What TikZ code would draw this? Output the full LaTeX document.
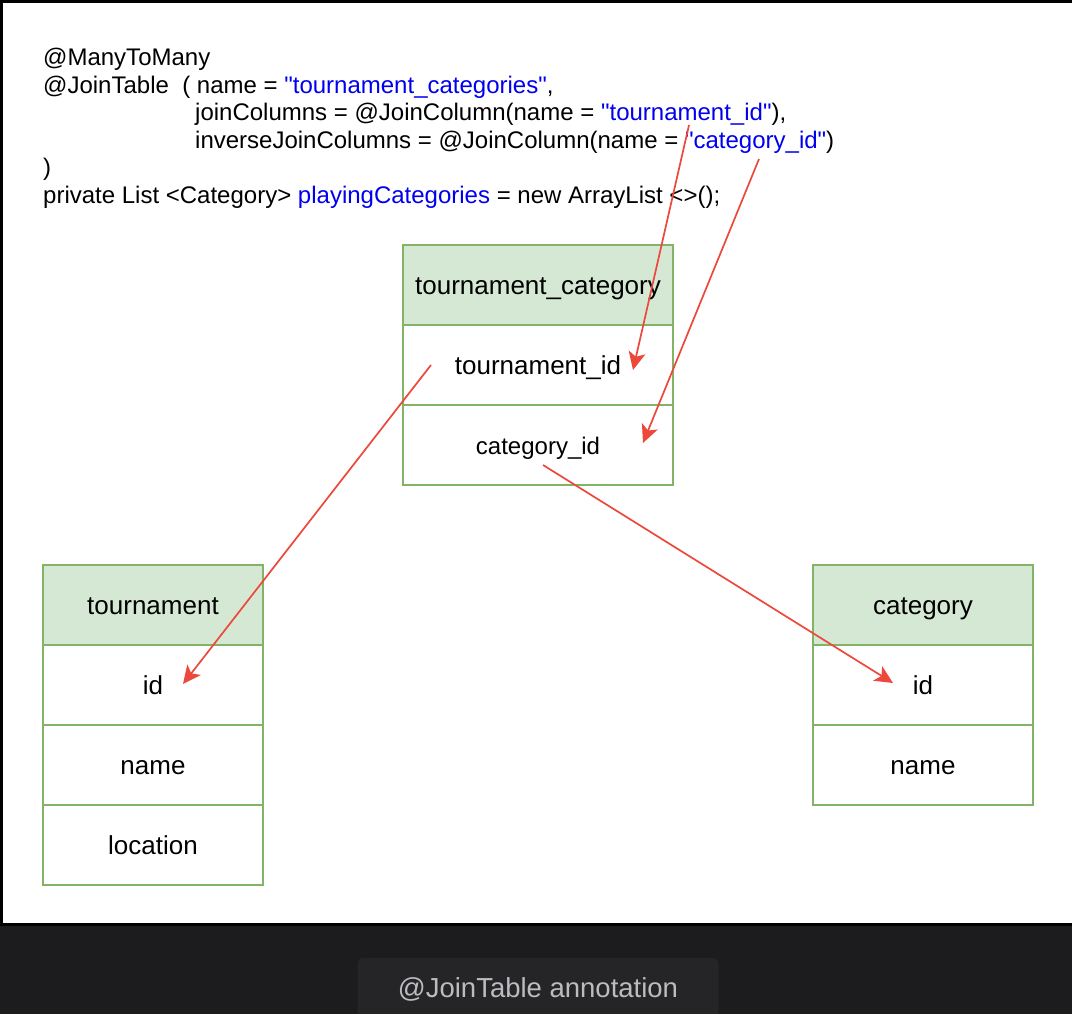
\documentclass[tikz,border=0pt]{standalone}
\usepackage{fontspec}
\setmainfont{Liberation Sans}[Ligatures=TeXOff]
\usetikzlibrary{positioning, arrows.meta}

\definecolor{headgreen}{HTML}{D5E8D4}
\definecolor{edgegreen}{HTML}{82B366}
\definecolor{linkred}{RGB}{236,72,60}
\definecolor{codeblue}{RGB}{0,0,238}
\definecolor{darkbg}{HTML}{1C1C1E}
\definecolor{capbg}{HTML}{252528}
\definecolor{capgray}{HTML}{BCBCC0}

\begin{document}
\begin{tikzpicture}[
        x=1pt, y=-1pt,
        node distance=0pt,
        code/.style={anchor=base west, inner sep=0pt, font=\fontsize{24}{28}\selectfont},
        head/.style={rectangle, draw=edgegreen, fill=headgreen, line width=1.5pt, minimum height=80pt, outer sep=0pt, font=\fontsize{26}{30}\selectfont, text height=22pt, text depth=3pt},
        cell/.style={head, fill=white},
        caption/.style={rectangle, fill=capbg, rounded corners=6pt, minimum width=361pt, minimum height=60pt, text=capgray, font=\fontsize{27.5}{30}\selectfont, text height=22pt, text depth=3pt},
        line/.style={draw, -{Stealth[length=18pt, width=17pt, inset=4.5pt]}, line width=1.7pt, linkred}
    ]
        \useasboundingbox (0,0) rectangle (1072,1014);
        % Background
        \fill [darkbg] (0,0) rectangle (1072,1014);
        \fill [black] (0,0) rectangle (1072,926);
        \fill [white] (3,3) rectangle (1072,923);

        % Code
        \node [code] (ann1) at (43,66) {@ManyToMany};
        \node [code] (ann2) at (43,93.5) {@JoinTable\ \ ( name = \textcolor{codeblue}{"tournament\_categories"},};
        \node [code] (ann3) at (195,121) {joinColumns = @JoinColumn(name = \textcolor{codeblue}{"tournament\_id"}),};
        \node [code] (ann4) at (195,148.5) {inverseJoinColumns = @JoinColumn(name = \textcolor{codeblue}{"category\_id"})};
        \node [code] (ann5) at (43,176) {)};
        \node [code] (ann6) at (43,203.5) {private List <Category> \textcolor{codeblue}{playingCategories} = new ArrayList <>();};

        % Nodes
        \node [head, minimum width=270pt] (tcHead) at (538,285) {tournament\_category};
        \node [cell, minimum width=270pt, below=of tcHead] (tcTid) {tournament\_id};
        \node [cell, minimum width=270pt, below=of tcTid, font=\fontsize{24}{28}\selectfont] (tcCid) {category\_id};

        \node [head, minimum width=220pt] (tHead) at (153,605) {tournament};
        \node [cell, minimum width=220pt, below=of tHead] (tId) {id};
        \node [cell, minimum width=220pt, below=of tId] (tName) {name};
        \node [cell, minimum width=220pt, below=of tName] (tLoc) {location};

        \node [head, minimum width=220pt] (cHead) at (923,605) {category};
        \node [cell, minimum width=220pt, below=of cHead] (cId) {id};
        \node [cell, minimum width=220pt, below=of cId] (cName) {name};

        \node [caption] (capt) at (538,988) {@JoinTable annotation};

        % Arrow ends
        \coordinate (tidSrc) at (689,125);
        \coordinate (cidSrc) at (759,159);
        \coordinate (tidDst) at (633,370);
        \coordinate (cidDst) at (643,443);
        \coordinate (tidOut) at (431,365);
        \coordinate (cidOut) at (543,465);
        \coordinate (tIdDst) at (183,684);
        \coordinate (cIdDst) at (893,683);

        % Edges
        \path [line] (tidSrc) -- (tidDst);
        \path [line] (cidSrc) -- (cidDst);
        \path [line] (tidOut) -- (tIdDst);
        \path [line] (cidOut) -- (cIdDst);
    \end{tikzpicture}
\end{document}
